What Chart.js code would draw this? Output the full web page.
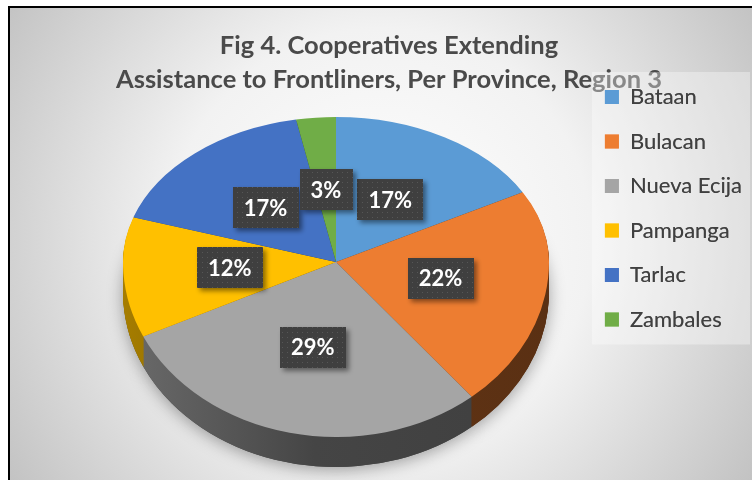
<!DOCTYPE html>
<html>
<head>
<meta charset="utf-8">
<script src="https://cdn.jsdelivr.net/npm/chart.js@4.4.1/dist/chart.umd.min.js"></script>
<style>
  html, body { margin: 0; padding: 0; background: #fff; }
</style>
</head>
<body>
<canvas id="grafico" width="752" height="480"></canvas>
<script>
const provincias = ['Bataan', 'Bulacan', 'Nueva Ecija', 'Pampanga', 'Tarlac', 'Zambales'];
const valores = [17, 22, 29, 12, 17, 3];
const colores = ['#5B9BD5', '#ED7D31', '#A5A5A5', '#FFC000', '#4472C4', '#70AD47'];
const titulo = ['Fig 4. Cooperatives Extending', 'Assistance to Frontliners, Per Province, Region 3'];

// vista 3D: la tarta se proyecta como elipse con un canto
const vista = { cx: 336, cy: 262, rx: 213, ryArriba: 145, ryAbajo: 175, fondo: 30 };

const fuente = 'Lato, "Open Sans", sans-serif';
Chart.defaults.font.family = fuente;

function escala(hex, f) {
  const n = parseInt(hex.slice(1), 16);
  const c = [n >> 16, (n >> 8) & 255, n & 255].map(v => Math.round(Math.min(255, v * f)));
  return `rgb(${c[0]},${c[1]},${c[2]})`;
}

// patron punteado de las etiquetas
const patronCanvas = document.createElement('canvas');
patronCanvas.width = 5; patronCanvas.height = 5;
const pctx = patronCanvas.getContext('2d');
pctx.fillStyle = '#3f3f3f'; pctx.fillRect(0, 0, 5, 5);
pctx.fillStyle = '#565656'; pctx.fillRect(2, 2, 1, 1);

function trazarTarta(chart, dy, pintar, solape = 1) {
  const ctx = chart.ctx;
  const arcos = chart.getDatasetMeta(0).data;
  const c = arcos[0].getProps(['x', 'y', 'outerRadius'], true);
  [[vista.ryArriba, true], [vista.ryAbajo, false]].forEach(([ry, arriba]) => {
    ctx.save();
    ctx.beginPath();
    if (arriba) ctx.rect(0, 0, chart.width, vista.cy + dy + solape);
    else ctx.rect(0, vista.cy + dy, chart.width, chart.height);
    ctx.clip();
    ctx.translate(vista.cx, vista.cy + dy);
    ctx.scale(vista.rx / c.outerRadius, ry / c.outerRadius);
    ctx.translate(-c.x, -c.y);
    arcos.forEach((arco, i) => pintar(ctx, arco, i));
    ctx.restore();
  });
}

function caminoArco(ctx, arco) {
  const p = arco.getProps(['x', 'y', 'startAngle', 'endAngle', 'outerRadius'], true);
  ctx.beginPath();
  ctx.moveTo(p.x, p.y);
  ctx.arc(p.x, p.y, p.outerRadius, p.startAngle, p.endAngle);
  ctx.closePath();
  return p;
}

const fondoPlugin = {
  id: 'fondo',
  beforeDraw(chart) {
    const ctx = chart.ctx;
    ctx.save();
    ctx.fillStyle = '#fff';
    ctx.fillRect(0, 0, chart.width, chart.height);
    const g = ctx.createRadialGradient(380, 240, 0, 380, 240, 470);
    g.addColorStop(0, '#ffffff');
    g.addColorStop(0.45, '#f2f2f2');
    g.addColorStop(1, '#bdbdbd');
    ctx.fillStyle = g;
    ctx.fillRect(10, 8, chart.width - 10, chart.height - 8);
    ctx.fillStyle = '#000';
    ctx.fillRect(8, 6, 2, chart.height - 6);
    ctx.fillRect(8, 6, chart.width - 8, 2);
    ctx.restore();
  }
};

const tarta3d = {
  id: 'tarta3d',
  beforeDatasetsDraw(chart) {
    const ctx = chart.ctx;
    const total = valores.reduce((a, b) => a + b, 0);

    // sombra suave (una sola pasada, sin solape entre mitades)
    ctx.save();
    ctx.shadowColor = 'rgba(0,0,0,0.35)';
    ctx.shadowBlur = 16;
    ctx.shadowOffsetY = 3;
    trazarTarta(chart, vista.fondo, (c, arco, i) => {
      caminoArco(c, arco);
      c.fillStyle = escala(colores[i], 0.4);
      c.fill();
    }, 0);
    ctx.restore();

    // canto
    for (let d = vista.fondo; d >= 1; d--) {
      trazarTarta(chart, d, (c, arco, i) => {
        const p = caminoArco(c, arco);
        const g = c.createLinearGradient(p.x - p.outerRadius, 0, p.x + p.outerRadius, 0);
        g.addColorStop(0, escala(colores[i], 0.65));
        g.addColorStop(0.45, escala(colores[i], 0.42));
        g.addColorStop(1, escala(colores[i], 0.38));
        c.fillStyle = g;
        c.fill();
      });
    }

    // cara superior
    trazarTarta(chart, 0, (c, arco) => arco.draw(c));

    // etiquetas
    chart.getDatasetMeta(0).data.forEach((arco, i) => {
      const p = arco.getProps(['startAngle', 'endAngle'], true);
      const m = (p.startAngle + p.endAngle) / 2;
      const s = Math.sin(m);
      const x = vista.cx + vista.rx * Math.cos(m) * 0.5;
      const y = vista.cy + (s > 0 ? vista.ryAbajo : vista.ryArriba) * s * 0.5;
      const txt = Math.round(valores[i] / total * 100) + '%';
      ctx.save();
      ctx.font = `bold 22px ${fuente}`;
      const w = ctx.measureText(txt).width + 22, h = 41;
      ctx.shadowColor = 'rgba(0,0,0,0.45)';
      ctx.shadowBlur = 5;
      ctx.shadowOffsetX = 3;
      ctx.shadowOffsetY = 3;
      ctx.fillStyle = ctx.createPattern(patronCanvas, 'repeat');
      ctx.fillRect(Math.round(x - w / 2), Math.round(y - h / 2), Math.round(w), h);
      ctx.shadowColor = 'transparent';
      ctx.fillStyle = '#fff';
      ctx.textAlign = 'center';
      ctx.textBaseline = 'middle';
      ctx.fillText(txt, x, y + 1);
      ctx.restore();
    });
    return false;
  },
  afterDraw(chart) {
    // caja de la leyenda, por encima del titulo
    const ley = chart.legend;
    const hb = ley.legendHitBoxes;
    const ult = hb[hb.length - 1];
    const ctx = chart.ctx;
    ctx.save();
    ctx.fillStyle = 'rgba(255,255,255,0.35)';
    const top = hb[0].top - 14;
    ctx.fillRect(hb[0].left - 13, top, chart.width - 2 - (hb[0].left - 13), ult.top + ult.height + 14 - top);
    ctx.restore();
    ley.draw();
  }
};

new Chart(document.getElementById('grafico'), {
  type: 'pie',
  data: {
    labels: provincias,
    datasets: [{
      data: valores,
      backgroundColor: colores,
      borderWidth: 0
    }]
  },
  options: {
    responsive: false,
    animation: false,
    events: [],
    devicePixelRatio: 1,
    layout: { padding: { left: 26, right: 0, top: 8, bottom: 0 } },
    plugins: {
      title: {
        display: true,
        text: titulo,
        color: '#4a4a4a',
        font: { size: 25.5, weight: 'bold', lineHeight: 1.32 },
        padding: { top: 21, bottom: 6 }
      },
      legend: {
        position: 'right',
        align: 'start',
        fullSize: true,
        title: { display: true, text: ' ', font: { size: 1, lineHeight: 1 }, padding: { top: 54.5, bottom: 0 } },
        labels: {
          boxWidth: 14,
          boxHeight: 14,
          padding: 22.5,
          color: '#404040',
          font: { size: 22 }
        }
      },
      tooltip: { enabled: false }
    }
  },
  plugins: [fondoPlugin, tarta3d]
});
</script>
</body>
</html>
